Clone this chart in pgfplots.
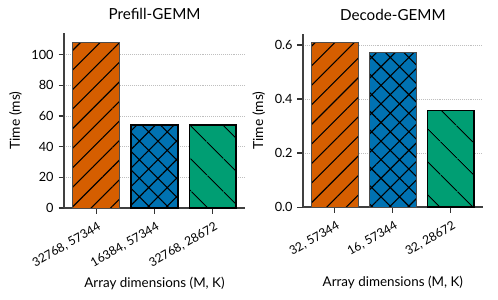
\documentclass[border=0pt]{standalone}
\usepackage{pgfplots}
\pgfplotsset{compat=1.18}
\usetikzlibrary{patterns.meta}
\usepackage{fontspec}
\setmainfont{Lato}
\definecolor{corange}{HTML}{D55E00}
\definecolor{cblue}{HTML}{0072B2}
\definecolor{cgreen}{HTML}{009E73}
\pgfplotsset{mystyle/.style={
  scale only axis,
  axis x line*=bottom, axis y line*=left,
  axis line style={black!75, line width=0.9pt},
  ybar, bar width=0.8, bar shift=0pt,
  xmin=-0.55, xmax=2.55,
  xtick={0,1,2},
  ymin=0,
  ymajorgrids, grid style={densely dotted, black!25, line width=0.5pt},
  tick align=outside, major tick length=4pt,
  tick style={black!80, line width=0.8pt},
  xticklabel style={rotate=30, anchor=north east, font=\fontsize{8.8}{10}\selectfont, inner sep=2pt, yshift=-3pt},
  yticklabel style={font=\fontsize{9.2}{10}\selectfont},
  /pgf/number format/assume math mode=true,
  ylabel={Time (ms)}, xlabel={Array dimensions (M, K)},
  ylabel style={font=\fontsize{10}{11}\selectfont},
  xlabel style={font=\fontsize{9.7}{11}\selectfont, at={(axis description cs:0.5,0)}, anchor=center, yshift=-54.5pt},
  title style={font=\fontsize{11}{12}\selectfont},
}}
\begin{document}
\begin{tikzpicture}
\path[use as bounding box] (0,0) rectangle (360pt,216.2pt);
\begin{axis}[mystyle, at={(46.3pt,65.8pt)}, anchor=south west,
  width=130.8pt, height=126.5pt,
  ymax=114, ytick={0,20,40,60,80,100},
  xticklabels={{32768, 57344},{16384, 57344},{32768, 28672}},
  title={Prefill-GEMM}]
\addplot[fill=corange, draw=black!70, line width=0.7pt, postaction={pattern={Lines[angle=45,distance=10pt,line width=0.8pt]}, pattern color=black}] coordinates {(0,108)};
\addplot[fill=cblue, draw=black, line width=1.2pt, postaction={pattern={Hatch[angle=45,distance=9.5pt,line width=0.8pt]}, pattern color=black}] coordinates {(1,54)};
\addplot[fill=cgreen, draw=black, line width=1.2pt, postaction={pattern={Lines[angle=-45,distance=17pt,line width=0.8pt]}, pattern color=black}] coordinates {(2,54)};
\end{axis}
\begin{axis}[mystyle, at={(219pt,66.5pt)}, anchor=south west,
  width=130pt, height=125pt,
  ymax=0.64, ytick={0,0.2,0.4,0.6},
  yticklabel style={/pgf/number format/.cd, fixed, fixed zerofill, precision=1},
  xticklabels={{32, 57344},{16, 57344},{32, 28672}},
  title={Decode-GEMM}]
\addplot[fill=corange, draw=black!70, line width=0.7pt, postaction={pattern={Lines[angle=45,distance=10pt,line width=0.8pt]}, pattern color=black}] coordinates {(0,0.610)};
\addplot[fill=cblue, draw=black!70, line width=0.7pt, postaction={pattern={Hatch[angle=45,distance=9.5pt,line width=0.8pt]}, pattern color=black}] coordinates {(1,0.571)};
\addplot[fill=cgreen, draw=black, line width=1.2pt, postaction={pattern={Lines[angle=-45,distance=17pt,line width=0.8pt]}, pattern color=black}] coordinates {(2,0.357)};
\end{axis}
\end{tikzpicture}
\end{document}
